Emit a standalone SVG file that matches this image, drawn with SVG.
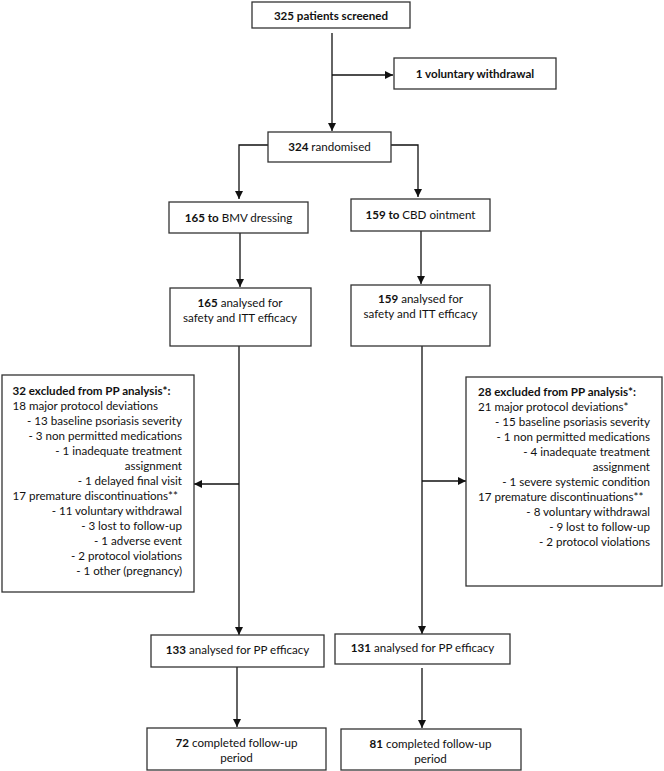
<svg xmlns="http://www.w3.org/2000/svg" width="664" height="771" viewBox="0 0 664 771">
<defs>
<style>
.box{fill:#fff;stroke:#333;stroke-width:1.3}
.ln{fill:none;stroke:#111;stroke-width:1.3}
text{font-family:Lato,"Liberation Sans",sans-serif;font-size:11.6px;fill:#111}
.b{font-weight:bold}
.m{text-anchor:middle}
.r{text-anchor:end}
</style>
<marker id="ah" viewBox="0 0 10 10" refX="10" refY="5" markerWidth="8" markerHeight="8" markerUnits="userSpaceOnUse" orient="auto">
<path d="M0,0 L10,5 L0,10 z" fill="#111"/>
</marker>
</defs>
<g id="connectors">
<path class="ln" d="M332,33 V131" marker-end="url(#ah)"/>
<path class="ln" d="M332,75 H393" marker-end="url(#ah)"/>
<path class="ln" d="M268,145 H239 V199" marker-end="url(#ah)"/>
<path class="ln" d="M391,145 H418 V197" marker-end="url(#ah)"/>
<path class="ln" d="M240,233 V287" marker-end="url(#ah)"/>
<path class="ln" d="M421,231 V284" marker-end="url(#ah)"/>
<path class="ln" d="M239,346 V635" marker-end="url(#ah)"/>
<path class="ln" d="M239,484 H194" marker-end="url(#ah)"/>
<path class="ln" d="M422,346 V634" marker-end="url(#ah)"/>
<path class="ln" d="M422,481 H466" marker-end="url(#ah)"/>
<path class="ln" d="M237,667 V727" marker-end="url(#ah)"/>
<path class="ln" d="M422,668 V728" marker-end="url(#ah)"/>
</g>
<g id="screened">
<rect class="box" x="252" y="2" width="158" height="26"/>
<text class="m b" x="331" y="20">325 patients screened</text>
</g>
<g id="withdrawal">
<rect class="box" x="394" y="58" width="162" height="31"/>
<text class="m b" x="475" y="78">1 voluntary withdrawal</text>
</g>
<g id="randomised">
<rect class="box" x="268" y="132" width="123" height="30"/>
<text class="m" x="329.5" y="150.5"><tspan class="b">324</tspan> randomised</text>
</g>
<g id="bmv">
<rect class="box" x="169" y="202" width="139" height="31"/>
<text class="m" x="238.5" y="221.5"><tspan class="b">165 to</tspan> BMV dressing</text>
</g>
<g id="cbd">
<rect class="box" x="351" y="199" width="139" height="32"/>
<text class="m" x="420.5" y="218.5"><tspan class="b">159 to</tspan> CBD ointment</text>
</g>
<g id="bmv-itt">
<rect class="box" x="170" y="288" width="141" height="58"/>
<text class="m" x="240" y="307"><tspan class="b">165</tspan> analysed for</text>
<text class="m" x="240" y="321.5">safety and ITT efficacy</text>
</g>
<g id="cbd-itt">
<rect class="box" x="351" y="285" width="139" height="61"/>
<text class="m" x="420.5" y="303"><tspan class="b">159</tspan> analysed for</text>
<text class="m" x="420.5" y="318">safety and ITT efficacy</text>
</g>
<g id="bmv-excluded">
<rect class="box" x="2" y="375" width="192" height="217"/>
<text class="b" x="12.5" y="394.5">32 excluded from PP analysis*:</text>
<text x="12.5" y="409.5">18 major protocol deviations</text>
<text class="r" x="182" y="424.5">- 13 baseline psoriasis severity</text>
<text class="r" x="182" y="439.5">- 3 non permitted medications</text>
<text class="r" x="182" y="454.5">- 1 inadequate treatment</text>
<text class="r" x="182" y="469.5">assignment</text>
<text class="r" x="182" y="484.5">- 1 delayed final visit</text>
<text x="12.5" y="499.5">17 premature discontinuations**</text>
<text class="r" x="182" y="514.5">- 11 voluntary withdrawal</text>
<text class="r" x="182" y="529.5">- 3 lost to follow-up</text>
<text class="r" x="182" y="544.5">- 1 adverse event</text>
<text class="r" x="182" y="559.5">- 2 protocol violations</text>
<text class="r" x="182" y="574.5">- 1 other (pregnancy)</text>
</g>
<g id="cbd-excluded">
<rect class="box" x="466" y="377" width="196" height="209"/>
<text class="b" x="478" y="396">28 excluded from PP analysis*:</text>
<text x="478" y="411">21 major protocol deviations*</text>
<text class="r" x="650" y="426">- 15 baseline psoriasis severity</text>
<text class="r" x="650" y="441">- 1 non permitted medications</text>
<text class="r" x="650" y="456">- 4 inadequate treatment</text>
<text class="r" x="650" y="471">assignment</text>
<text class="r" x="650" y="486">- 1 severe systemic condition</text>
<text x="478" y="501">17 premature discontinuations**</text>
<text class="r" x="650" y="516">- 8 voluntary withdrawal</text>
<text class="r" x="650" y="531">- 9 lost to follow-up</text>
<text class="r" x="650" y="546">- 2 protocol violations</text>
</g>
<g id="bmv-pp">
<rect class="box" x="151" y="635" width="173" height="32"/>
<text class="m" x="237.5" y="653.5"><tspan class="b">133</tspan> analysed for PP efficacy</text>
</g>
<g id="cbd-pp">
<rect class="box" x="335" y="634" width="175" height="30"/>
<text class="m" x="422.5" y="651.5"><tspan class="b">131</tspan> analysed for PP efficacy</text>
</g>
<g id="bmv-completed">
<rect class="box" x="147" y="728" width="179" height="42"/>
<text class="m" x="236.5" y="746.5"><tspan class="b">72</tspan> completed follow-up</text>
<text class="m" x="236.5" y="761.5">period</text>
</g>
<g id="cbd-completed">
<rect class="box" x="341" y="729" width="180" height="41"/>
<text class="m" x="430.5" y="747.5"><tspan class="b">81</tspan> completed follow-up</text>
<text class="m" x="430.5" y="762.5">period</text>
</g>
</svg>
